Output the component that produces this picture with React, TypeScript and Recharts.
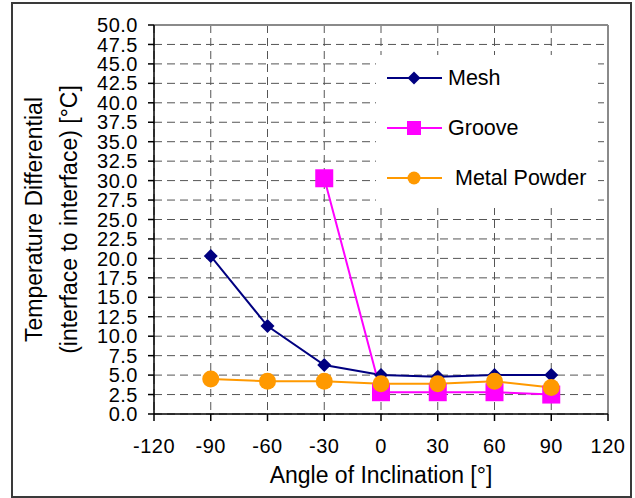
import React from "react";
import { CartesianGrid, Line, LineChart, ReferenceLine, XAxis, YAxis } from "recharts";

const angles = [-90, -60, -30, 0, 30, 60, 90];
const mesh = [20.3, 11.3, 6.3, 5.0, 4.8, 5.0, 5.0];
const groove: (number | null)[] = [null, null, 30.3, 2.8, 2.8, 2.8, 2.5];
const metalPowder = [4.5, 4.2, 4.2, 3.9, 3.9, 4.2, 3.4];

const xTicks = [-120, -90, -60, -30, 0, 30, 60, 90, 120];
const yTicks = Array.from({ length: 21 }, (_, i) => i * 2.5);

const FONT = "'Liberation Sans', Arial, sans-serif";
const TICK_SIZE = 20;
const TITLE_SIZE = 23;
const LEGEND_FONT = 21.5;

const rows = angles.map((angle, i) => ({
  angle,
  mesh: mesh[i],
  groove: groove[i],
  metalPowder: metalPowder[i],
}));

type Shape = "diamond" | "square" | "circle";

const SERIES: { key: string; name: string; color: string; shape: Shape }[] = [
  { key: "mesh", name: "Mesh", color: "#000080", shape: "diamond" },
  { key: "groove", name: "Groove", color: "#ff00ff", shape: "square" },
  { key: "metalPowder", name: "Metal Powder", color: "#ff9900", shape: "circle" },
];

function Marker({ shape, color, cx, cy, size }: { shape: Shape; color: string; cx: number; cy: number; size: number }) {
  if (shape === "diamond") {
    return (
      <polygon
        points={`${cx},${cy - size} ${cx + size},${cy} ${cx},${cy + size} ${cx - size},${cy}`}
        fill={color}
      />
    );
  }
  if (shape === "square") {
    return <rect x={cx - size} y={cy - size} width={size * 2} height={size * 2} fill={color} />;
  }
  return <circle cx={cx} cy={cy} r={size} fill={color} />;
}

const DOT_SIZE: Record<Shape, number> = { diamond: 7, square: 9, circle: 8.5 };
const LEGEND_SIZE: Record<Shape, number> = { diamond: 6.5, square: 7, circle: 6.5 };

function makeDot(shape: Shape, color: string) {
  return (props: any) => {
    const { cx, cy, index, value } = props;
    if (value == null || cx == null || cy == null) return <g key={`e-${index}`} />;
    return (
      <g key={`d-${index}`}>
        <Marker shape={shape} color={color} cx={cx} cy={cy} size={DOT_SIZE[shape]} />
      </g>
    );
  };
}

function YTitle(props: any) {
  const vb = props.viewBox || {};
  const cy = vb.y + vb.height / 2;
  return (
    <g fontFamily={FONT} fontSize={TITLE_SIZE} fill="#000">
      <text x={34} y={cy} transform={`rotate(-90, 34, ${cy})`} textAnchor="middle" dominantBaseline="central">
        Temperature Differential
      </text>
      <text x={69} y={cy} transform={`rotate(-90, 69, ${cy})`} textAnchor="middle" dominantBaseline="central">
        (interface to interface) [°C]
      </text>
    </g>
  );
}

function ChartLegend() {
  return (
    <div
      style={{
        position: "absolute",
        left: 376,
        top: 55,
        width: 222,
        height: 153,
        background: "#fff",
        fontFamily: FONT,
        fontSize: LEGEND_FONT,
      }}
    >
      {SERIES.map((s, i) => (
        <div
          key={s.key}
          style={{ position: "absolute", left: 0, top: 8 + i * 50, height: 30, display: "flex", alignItems: "center" }}
        >
          <svg width={72} height={30} style={{ display: "block" }}>
            <line x1={11} x2={66} y1={15} y2={15} stroke={s.color} strokeWidth={2} />
            <Marker shape={s.shape} color={s.color} cx={38} cy={15} size={LEGEND_SIZE[s.shape]} />
          </svg>
          <span style={{ marginLeft: s.shape === "circle" ? 7 : 0, whiteSpace: "nowrap" }}>{s.name}</span>
        </div>
      ))}
    </div>
  );
}

export default function App() {
  return (
    <div style={{ position: "absolute", left: 0, top: 0, width: 635, height: 498, background: "#fff" }}>
      <div
        style={{
          position: "absolute",
          left: 11,
          top: 2,
          width: 617,
          height: 492,
          border: "2px solid #3a3a3a",
        }}
      />
      <LineChart width={635} height={498} data={rows} margin={{ top: 25, right: 27, left: 0, bottom: 0 }}>
        <CartesianGrid stroke="#555" strokeDasharray="8 5" />
        <ReferenceLine y={50} stroke="#8a8a8a" strokeWidth={2} />
        <ReferenceLine x={120} stroke="#8a8a8a" strokeWidth={2} />
        <XAxis
          type="number"
          dataKey="angle"
          domain={[-120, 120]}
          ticks={xTicks}
          interval={0}
          height={84}
          tickSize={7}
          tickMargin={18}
          stroke="#000"
          strokeWidth={1.5}
          tick={{ fill: "#000", fontFamily: FONT, fontSize: TICK_SIZE, letterSpacing: 0.5 }}
          label={{
            value: "Angle of Inclination [°]",
            position: "insideBottom",
            offset: 15,
            fill: "#000",
            fontFamily: FONT,
            fontSize: TITLE_SIZE,
          }}
        />
        <YAxis
          type="number"
          domain={[0, 50]}
          ticks={yTicks}
          interval={0}
          width={154}
          tickSize={6}
          tickMargin={10}
          stroke="#000"
          strokeWidth={1.5}
          tickFormatter={(v: number) => v.toFixed(1)}
          tick={{ fill: "#000", fontFamily: FONT, fontSize: TICK_SIZE, letterSpacing: 0.5 }}
          label={{ content: YTitle }}
        />
        {SERIES.map((s) => (
          <Line
            key={s.key}
            dataKey={s.key}
            name={s.name}
            type="linear"
            stroke={s.color}
            strokeWidth={2}
            dot={makeDot(s.shape, s.color)}
            activeDot={false}
            isAnimationActive={false}
          />
        ))}
      </LineChart>
      <ChartLegend />
    </div>
  );
}
